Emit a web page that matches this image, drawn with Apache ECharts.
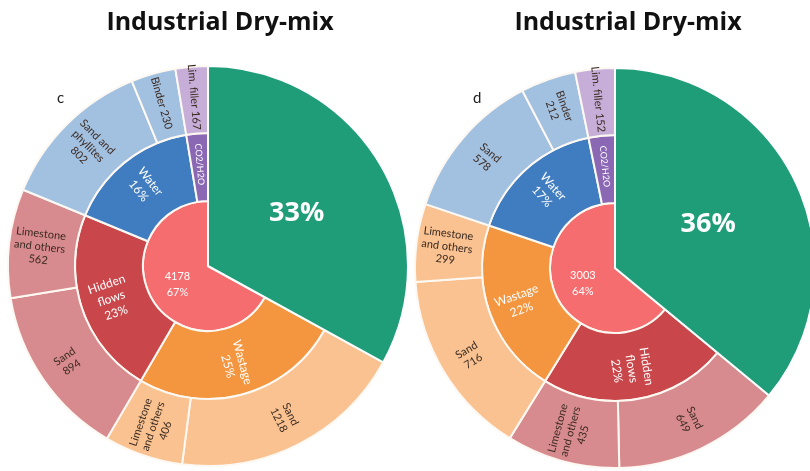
<!DOCTYPE html>
<html>
<head>
<meta charset="utf-8">
<script src="https://cdn.jsdelivr.net/npm/echarts@6/dist/echarts.min.js"></script>
<style>
  html, body { margin: 0; padding: 0; background: #fff; }
  #chart { width: 810px; height: 471px; }
</style>
</head>
<body>
<div id="chart"></div>
<script>
// Shared title
const panelTitle = 'Industrial Dry-mix';

// Panel c
const cGroups = ['Wastage', 'Hidden\nflows', 'Water', 'CO2/H2O'];
const cGroupPct = [25, 23, 16, 3];
const cLeafNames = ['Sand', 'Limestone\nand others', 'Sand', 'Limestone\nand others', 'Sand and\nphyllites', 'Binder', 'Lim. filler'];
const cLeafValues = [1218, 406, 894, 562, 802, 230, 167];
const cLeafGroup = [0, 0, 1, 1, 2, 2, 3];
const cLeafInline = [false, false, false, false, false, true, true];
const cTotal = 4178;
const cShare = 67;
const cRest = 33;

// Panel d
const dGroups = ['Hidden\nflows', 'Wastage', 'Water', 'CO2/H2O'];
const dGroupPct = [22, 22, 17, 3];
const dLeafNames = ['Sand', 'Limestone\nand others', 'Sand', 'Limestone\nand others', 'Sand', 'Binder', 'Lim. filler'];
const dLeafValues = [649, 435, 716, 299, 578, 212, 152];
const dLeafGroup = [0, 0, 1, 1, 2, 2, 3];
const dLeafInline = [false, false, false, false, false, false, true];
const dTotal = 3003;
const dShare = 64;
const dRest = 36;

const FONT = 'Lato, "Open Sans", sans-serif';
const HEAD_FONT = '"Open Sans", Lato, sans-serif';
const GREEN = '#1f9c78';
const CORE = '#f56d6f';
// [ring colour, outer colour] per flow type
const palette = {
  'Wastage': ['#f4963f', '#f9c290'],
  'Hidden\nflows': ['#c9474b', '#d88b8e'],
  'Water': ['#3f7cc0', '#a2c0e0'],
  'CO2/H2O': ['#8b68b4', '#c6aed8']
};

const R_CORE = 65, R_MID = 133, R_OUT = 200;

function gap(value) {
  return {
    value: value, name: '', itemStyle: { color: 'rgba(0,0,0,0)', borderWidth: 0 },
    label: { show: false }, emphasis: { disabled: true }, tooltip: { show: false }
  };
}

function buildPanel(center, groups, groupPct, leafNames, leafValues, leafGroup, leafInline, total, share, rest) {
  // group sums come straight from the leaf values
  const groupSums = groups.map((g, gi) =>
    leafValues.reduce((s, v, i) => s + (leafGroup[i] === gi ? v : 0), 0));
  const leafSum = groupSums.reduce((a, b) => a + b, 0);
  const restValue = leafSum * rest / share;

  const common = {
    type: 'pie', center: center, startAngle: 90, clockwise: true,
    avoidLabelOverlap: false, labelLine: { show: false }, silent: true,
    emphasis: { disabled: true }, animation: false
  };

  // outer ring: individual materials
  const outer = Object.assign({}, common, {
    radius: [R_MID, R_OUT],
    itemStyle: { borderColor: '#fdf8f2', borderWidth: 2 },
    label: {
      show: true, position: 'inside', rotate: 'radial', color: '#3b2a22',
      fontFamily: FONT, fontSize: 11, lineHeight: 13
    },
    data: [gap(restValue)].concat(leafNames.map((n, i) => ({
      value: leafValues[i],
      name: n,
      itemStyle: { color: palette[groups[leafGroup[i]]][1] },
      label: { formatter: n + (leafInline[i] ? ' ' : '\n') + leafValues[i] }
    })))
  });

  // middle ring: flow types
  const middle = Object.assign({}, common, {
    radius: [R_CORE, R_MID],
    itemStyle: { borderColor: '#fdf8f2', borderWidth: 2 },
    label: {
      show: true, position: 'inside', rotate: 'radial', color: '#fff',
      fontFamily: FONT, fontSize: 12, lineHeight: 15
    },
    data: [gap(restValue)].concat(groups.map((g, gi) => ({
      value: groupSums[gi],
      name: g,
      itemStyle: { color: palette[g][0] },
      label: {
        formatter: g === 'CO2/H2O' ? g : g + '\n' + groupPct[gi] + '%',
        fontSize: g === 'CO2/H2O' ? 9 : 12
      }
    })))
  });

  // core disc
  const core = Object.assign({}, common, {
    radius: [0, R_CORE],
    itemStyle: { borderColor: '#fdf8f2', borderWidth: 2 },
    label: {
      show: true, position: 'inside', color: '#fff',
      fontFamily: FONT, fontSize: 11, lineHeight: 16
    },
    data: [gap(restValue), {
      value: leafSum, name: 'core',
      itemStyle: { color: CORE },
      label: { formatter: total + '\n' + share + '%' }
    }]
  });

  // remaining share, spanning all rings
  const restWedge = Object.assign({}, common, {
    radius: [0, R_OUT],
    z: 3,
    itemStyle: { borderColor: '#ffffff', borderWidth: 2 },
    label: {
      show: true, position: 'inside', color: '#fff',
      fontFamily: HEAD_FONT, fontSize: 27, fontWeight: 'bold',
      lineHeight: 30, padding: [22, 0, 0, 0]
    },
    data: [{
      value: restValue, name: 'rest',
      itemStyle: { color: GREEN },
      label: { formatter: rest + '%' }
    }, {
      value: leafSum, name: '', itemStyle: { color: 'rgba(0,0,0,0)', borderWidth: 0 },
      label: { show: false }
    }]
  });

  return [core, middle, outer, restWedge];
}

const chart = echarts.init(document.getElementById('chart'), null, { renderer: 'canvas' });
chart.setOption({
  backgroundColor: '#ffffff',
  animation: false,
  title: [
    { text: panelTitle, left: 215, top: 5, textAlign: 'center',
      textStyle: { fontFamily: HEAD_FONT, fontSize: 25, fontWeight: 'bold', color: '#111' } },
    { text: panelTitle, left: 623, top: 5, textAlign: 'center',
      textStyle: { fontFamily: HEAD_FONT, fontSize: 25, fontWeight: 'bold', color: '#111' } },
    { text: 'c', left: 52, top: 86,
      textStyle: { fontFamily: FONT, fontSize: 15, fontWeight: 'normal', color: '#222' } },
    { text: 'd', left: 468, top: 86,
      textStyle: { fontFamily: FONT, fontSize: 15, fontWeight: 'normal', color: '#222' } }
  ],
  series: []
    .concat(buildPanel([208, 266], cGroups, cGroupPct, cLeafNames, cLeafValues, cLeafGroup, cLeafInline, cTotal, cShare, cRest))
    .concat(buildPanel([615, 268], dGroups, dGroupPct, dLeafNames, dLeafValues, dLeafGroup, dLeafInline, dTotal, dShare, dRest))
});
</script>
</body>
</html>
